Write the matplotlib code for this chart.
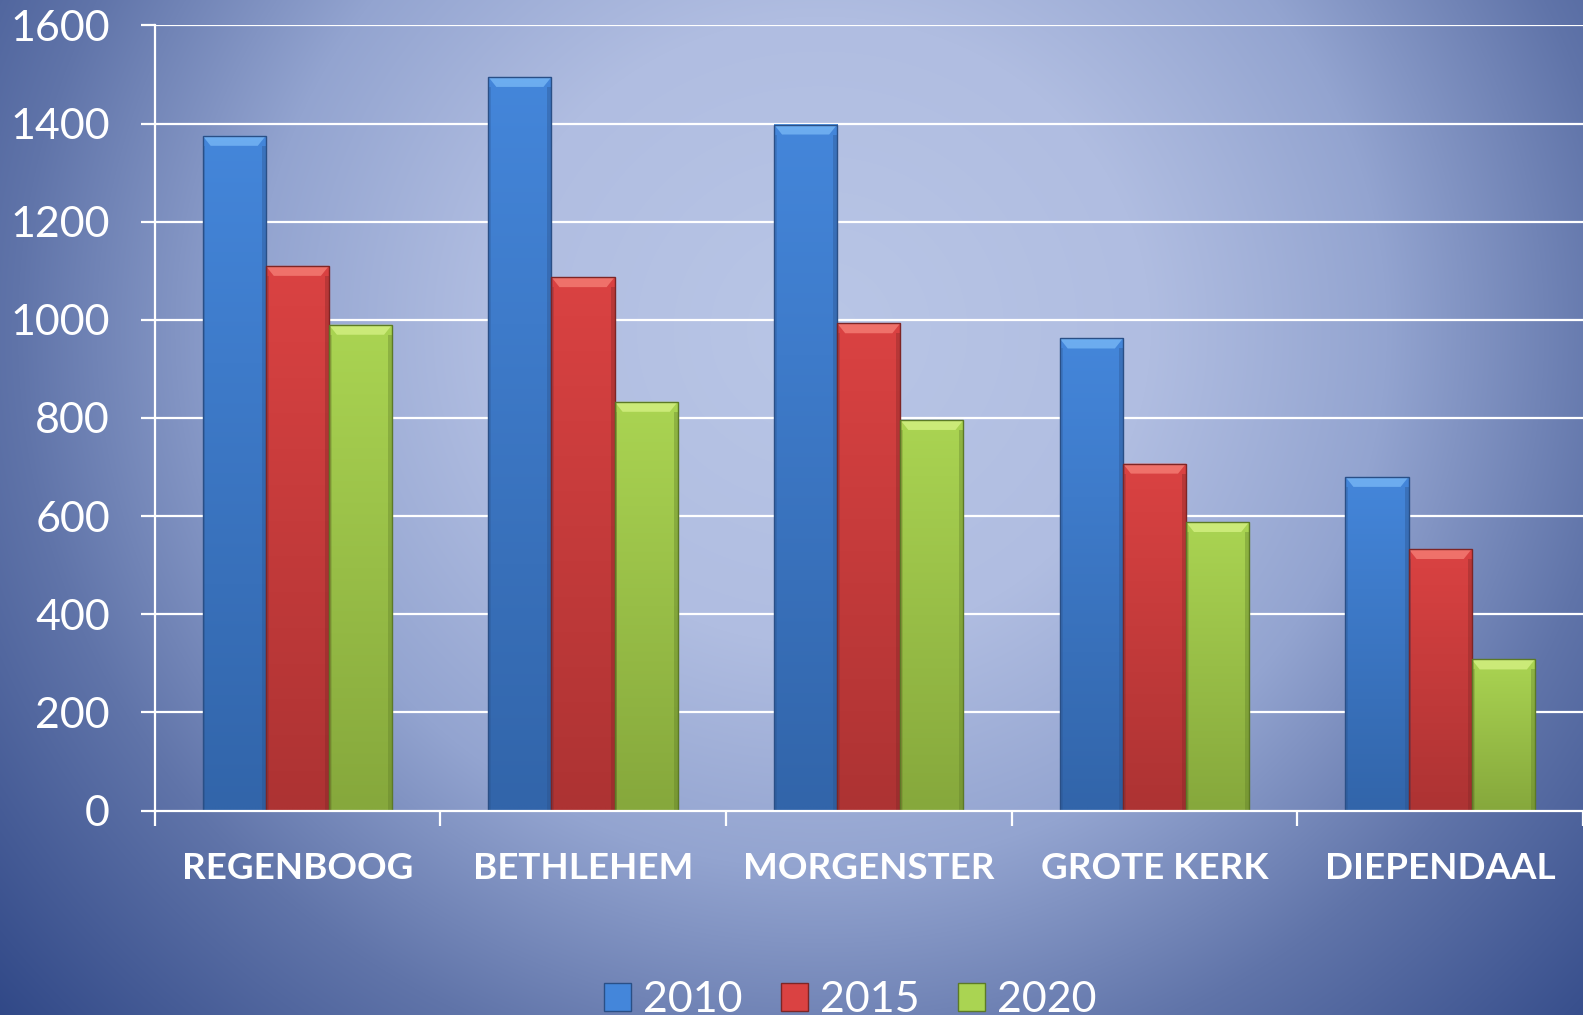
import matplotlib

matplotlib.use("Agg")

import matplotlib.pyplot as plt
from matplotlib.colors import to_rgb
from matplotlib.patches import Patch, Polygon, Rectangle
import numpy as np

CATEGORIES = ["REGENBOOG", "BETHLEHEM", "MORGENSTER", "GROTE KERK", "DIEPENDAAL"]
SERIES = ["2010", "2015", "2020"]
V2010 = [1375, 1495, 1398, 962, 680]
V2015 = [1110, 1087, 993, 707, 533]
V2020 = [990, 833, 796, 588, 308]
YTICKS = [0, 200, 400, 600, 800, 1000, 1200, 1400, 1600]

# (top, bottom, bevel-light, edge)
PALETTE = [
    ("#4486da", "#3265aa", "#74b4f4", "#2a4f86"),
    ("#da4242", "#ad3333", "#f37a72", "#7e2525"),
    ("#aad452", "#86a83c", "#d2ef80", "#5c7a26"),
]

W, H, DPI = 15.83, 10.15, 100
fig = plt.figure(figsize=(W, H), dpi=DPI)

# radial background
bg = fig.add_axes([0, 0, 1, 1], zorder=-10)
yy, xx = np.mgrid[0:1015, 0:1583]
d = np.sqrt((xx - 820) ** 2 + ((yy - 330) / 0.95) ** 2) / 1180.0
stops = np.array([0.0, 0.28, 0.48, 0.68, 0.95])
cols = np.array([to_rgb(c) for c in ["#b9c6e6", "#b0bde1", "#93a4d0", "#6074a9", "#2c4484"]])
img = np.dstack([np.interp(d, stops, cols[:, k]) for k in range(3)])
bg.imshow(img, aspect="auto", extent=(0, 1, 0, 1), origin="upper")
bg.set_axis_off()

L, B, R, T = 0.0976, 0.2014, 1.0, 0.975
ax = fig.add_axes([L, B, R - L, T - B])
ax.set_facecolor("none")
ax.set_xlim(0, len(CATEGORIES))
ax.set_ylim(0, 1600)

px_x = (R - L) * W * DPI / len(CATEGORIES)  # pixels per x unit
px_y = (T - B) * H * DPI / 1600.0  # pixels per y unit

bw = 0.221
grad = np.linspace(0, 1, 64).reshape(-1, 1)


def draw_bar(x0, h, pal):
    top, bot, light, edge = pal
    c_top, c_bot = np.array(to_rgb(top)), np.array(to_rgb(bot))
    g = c_bot + (c_top - c_bot) * grad[::-1]
    ax.imshow(g.reshape(-1, 1, 3), extent=(x0, x0 + bw, 0, h), aspect="auto",
              origin="upper", zorder=3, interpolation="bilinear")
    bx = 8 / px_x
    by = 10 / px_y
    # top bevel
    ax.add_patch(Polygon([(x0, h), (x0 + bw, h), (x0 + bw - bx, h - by), (x0 + bx, h - by)],
                         closed=True, facecolor=light, edgecolor="none", zorder=4, alpha=0.85))
    # side bevels
    sx = 4 / px_x
    ax.add_patch(Rectangle((x0 + bw - sx, 0), sx, h - by, facecolor=edge, alpha=0.35,
                           edgecolor="none", zorder=4))
    ax.add_patch(Rectangle((x0, 0), sx * 0.7, h - by, facecolor=edge, alpha=0.25,
                           edgecolor="none", zorder=4))
    ax.add_patch(Rectangle((x0, 0), bw, h, facecolor="none", edgecolor=edge, lw=1.0, zorder=5))


for s, vals in enumerate([V2010, V2015, V2020]):
    for i, v in enumerate(vals):
        x0 = i + 0.5 + (s - 1.5) * bw
        draw_bar(x0, v, PALETTE[s])

for y in YTICKS[1:]:
    ax.axhline(y, color="white", lw=1.6, zorder=1)

for sp in ["top", "right"]:
    ax.spines[sp].set_visible(False)
for sp in ["left", "bottom"]:
    ax.spines[sp].set_color("white")
    ax.spines[sp].set_linewidth(1.6)
ax.spines["bottom"].set_zorder(6)

ax.set_yticks(YTICKS)
ax.set_yticklabels([str(v) for v in YTICKS])
ax.tick_params(axis="y", colors="white", length=10, width=1.6, direction="out", pad=22,
               labelsize=31)
ax.set_xticks(np.arange(len(CATEGORIES) + 1))
ax.set_xticklabels([])
ax.tick_params(axis="x", which="major", colors="white", length=11, width=1.6, direction="out")
ax.set_xticks(np.arange(len(CATEGORIES)) + 0.5, minor=True)
ax.set_xticklabels(CATEGORIES, minor=True, fontweight="bold", fontsize=26.5)
ax.tick_params(axis="x", which="minor", length=0, pad=30, labelcolor="white")
for lab in ax.get_yticklabels() + ax.get_xticklabels(minor=True):
    lab.set_family("Lato")
    lab.set_color("white")

handles = [Patch(facecolor=p[0], edgecolor=p[3], lw=1.0) for p in PALETTE]
leg = fig.legend(handles, SERIES, loc="center", bbox_to_anchor=(0.537, 0.015), ncol=3,
                 frameon=False, handlelength=0.62, handleheight=0.62, handletextpad=0.28,
                 columnspacing=0.9, prop={"family": "Lato", "size": 31})
for t in leg.get_texts():
    t.set_color("white")

fig.savefig("out.png", dpi=DPI)
